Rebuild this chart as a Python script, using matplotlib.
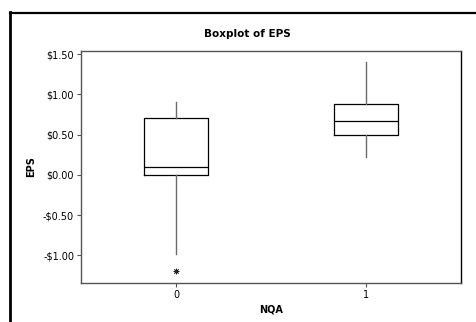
import matplotlib
matplotlib.use("Agg")
import matplotlib.pyplot as plt
from matplotlib.lines import Line2D

categories = ["0", "1"]
whislo = [-0.99, 0.22]
q1 = [0.0, 0.49]
med = [0.095, 0.675]
q3 = [0.71, 0.88]
whishi = [0.90, 1.40]
outliers = [[-1.195], []]
yticks = [-1.0, -0.5, 0.0, 0.5, 1.0, 1.5]

W, H = 477, 322
fig = plt.figure(figsize=(W / 100, H / 100), dpi=100)
fig.patch.set_facecolor("white")

left, right, top, bottom = 81, 461, 51, 283
ax = fig.add_axes([left / W, 1 - bottom / H, (right - left) / W, (bottom - top) / H])

stats = []
for i, c in enumerate(categories):
    stats.append(dict(label=c, whislo=whislo[i], q1=q1[i], med=med[i],
                      q3=q3[i], whishi=whishi[i], fliers=outliers[i]))

ax.bxp(stats, positions=[0, 1], widths=0.337, showcaps=False,
       boxprops=dict(color="black", linewidth=0.9),
       medianprops=dict(color="black", linewidth=0.9),
       whiskerprops=dict(color="#6b6b6b", linewidth=1.0),
       flierprops=dict(marker=(8, 2, 0), markersize=4, markeredgecolor="#222222",
                       markerfacecolor="#222222", markeredgewidth=0.6, linestyle="none"))

ax.set_xlim(-0.5, 1.5)
ax.set_ylim(-1.345, 1.54)
ax.set_yticks(yticks)
ax.set_yticklabels([("-" if v < 0 else "") + "$%.2f" % abs(v) for v in yticks])
ax.set_xticks([0, 1])
ax.set_xticklabels(categories)

for s in ["left", "bottom", "top", "right"]:
    ax.spines[s].set_linewidth(1.0)
ax.spines["left"].set_color("#555555")
ax.spines["top"].set_color("#555555")
ax.spines["right"].set_color("black")
ax.spines["bottom"].set_color("#555555")

ax.tick_params(axis="both", direction="out", length=3, width=0.8, color="#555555",
               labelsize=7, pad=2, labelcolor="black")

fig.text(247 / W, 1 - 34 / H, "Boxplot of EPS", ha="center", va="center",
         fontsize=7.5, fontweight="bold")
fig.text(31 / W, 1 - 167 / H, "EPS", ha="center", va="center", rotation=90,
         fontsize=7, fontweight="bold")
fig.text(271 / W, 1 - 309 / H, "NQA", ha="center", va="center",
         fontsize=7, fontweight="bold")

# window frame
fig.add_artist(Line2D([10 / W, 1.0], [1 - 12.5 / H, 1 - 12.5 / H], transform=fig.transFigure,
                      color="black", linewidth=1.6))
fig.add_artist(Line2D([10.5 / W, 10.5 / W], [0, 1 - 12 / H], transform=fig.transFigure,
                      color="black", linewidth=2.0))

fig.savefig("out.png", dpi=100)
